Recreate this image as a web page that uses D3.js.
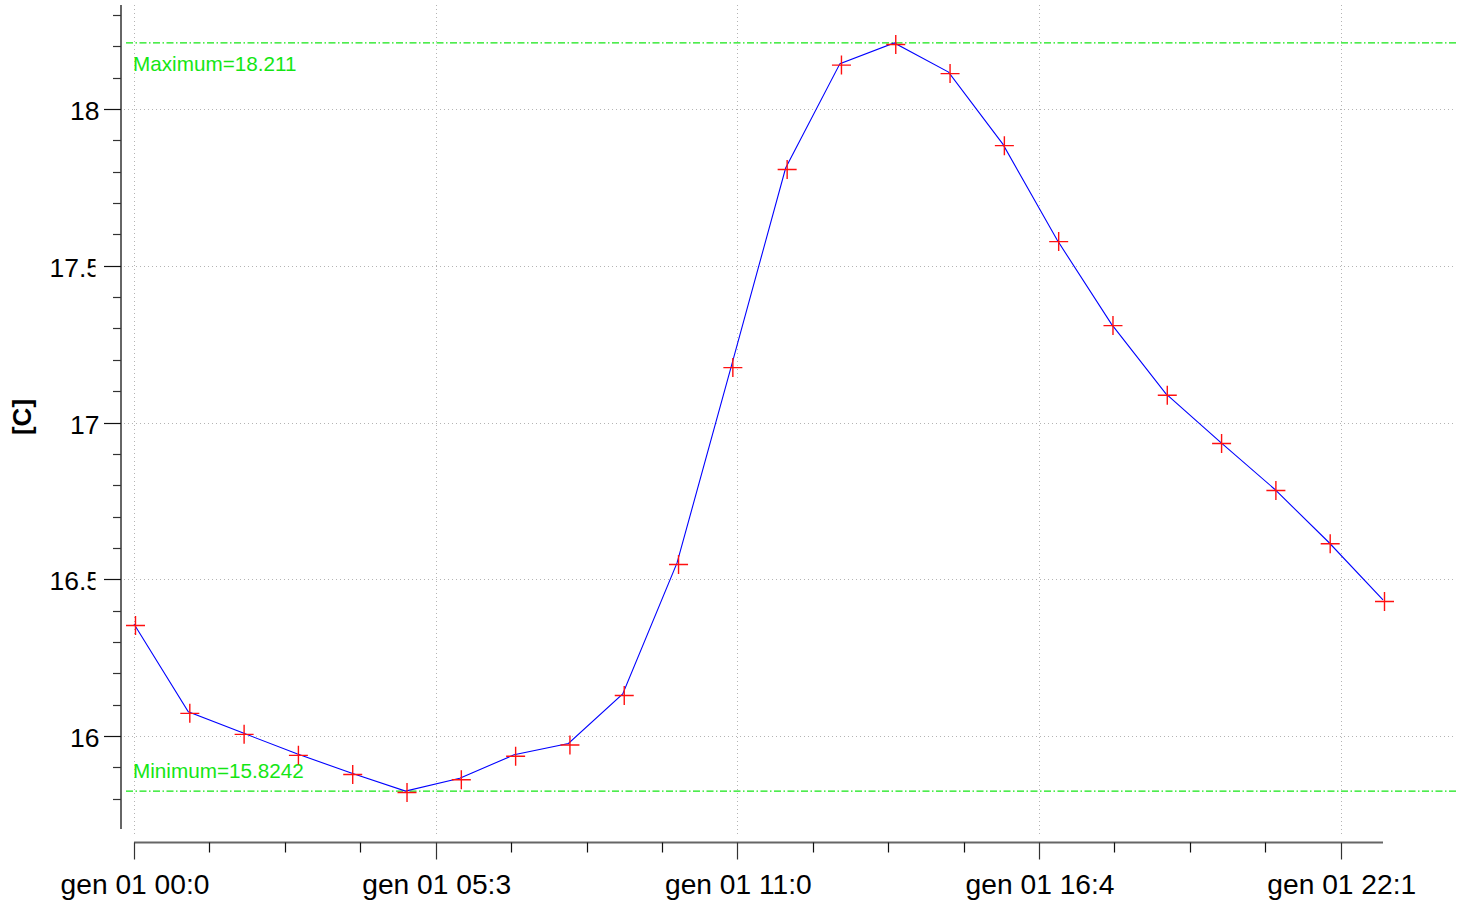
<!DOCTYPE html>
<html>
<head>
<meta charset="utf-8">
<script src="https://cdn.jsdelivr.net/npm/d3@7"></script>
<style>
  html, body { margin: 0; padding: 0; background: #fff; }
  svg { display: block; font-family: "Liberation Sans", Arial, Helvetica, sans-serif; }
</style>
</head>
<body>
<svg id="chart" width="1467" height="905"></svg>
<script>
// Hourly temperature readings, hours since gen 01 00:00
const hours = [0, 1, 2, 3, 4, 5, 6, 7, 8, 9, 10, 11, 12, 13, 14, 15, 16, 17, 18, 19, 20, 21, 22, 23];
const temperature = [16.357, 16.077, 16.010, 15.943, 15.882, 15.8242, 15.865, 15.940, 15.976, 16.134,
                     16.552, 17.180, 17.812, 18.145, 18.211, 18.118, 17.888, 17.582, 17.314, 17.092,
                     16.938, 16.788, 16.618, 16.434];

// Axis ticks
const xMajorTicks = [0, 50 / 9, 100 / 9, 150 / 9, 200 / 9];
const xTickLabels = ["gen 01 00:0", "gen 01 05:3", "gen 01 11:0", "gen 01 16:4", "gen 01 22:1"];
const yMajorTicks = [16, 16.5, 17, 17.5, 18];
const yTickLabels = ["16", "16.5", "17", "17.5", "18"];
const yMinorTicks = [15.8, 15.9, 16.1, 16.2, 16.3, 16.4, 16.6, 16.7, 16.8, 16.9,
                     17.1, 17.2, 17.3, 17.4, 17.6, 17.7, 17.8, 17.9, 18.1, 18.2, 18.3];
const yAxisTitle = "[C]";

// Reference lines for the extremes
const maxValue = d3.max(temperature);
const minValue = d3.min(temperature);
const maxLabel = "Maximum=18.211";
const minLabel = "Minimum=15.8242";

const svg = d3.select("#chart");

const x = d3.scaleLinear().domain([0, 23]).range([134, 1383]);
const y = d3.scaleLinear().domain([15.7, 18.332]).range([830, 5]);

const xMinorTicks = d3.range(0, 23, 25 / 18).filter(t => !xMajorTicks.some(m => Math.abs(m - t) < 1e-6));

const gridRight = 1456;
const gridBottom = 837;

// Dotted grid
const grid = svg.append("g").attr("stroke", "#b4b4b4").attr("stroke-width", 1).attr("stroke-dasharray", "1,3");
grid.selectAll("line.v").data(xMajorTicks).join("line")
  .attr("class", "v")
  .attr("x1", d => Math.round(x(d)) + 0.5).attr("x2", d => Math.round(x(d)) + 0.5)
  .attr("y1", y.range()[1]).attr("y2", gridBottom);
grid.selectAll("line.h").data(yMajorTicks).join("line")
  .attr("class", "h")
  .attr("x1", 124).attr("x2", gridRight)
  .attr("y1", d => Math.round(y(d)) + 0.5).attr("y2", d => Math.round(y(d)) + 0.5);

// Y axis
const yAxisG = svg.append("g").attr("transform", "translate(121,0)");
yAxisG.append("line")
  .attr("x1", 0).attr("x2", 0)
  .attr("y1", y.range()[1]).attr("y2", y.range()[0] - 1)
  .attr("stroke", "#666").attr("stroke-width", 2);
yAxisG.selectAll("line.major").data(yMajorTicks).join("line")
  .attr("class", "major")
  .attr("x1", -17).attr("x2", 0)
  .attr("y1", d => Math.round(y(d)) + 0.5).attr("y2", d => Math.round(y(d)) + 0.5)
  .attr("stroke", "#111").attr("stroke-width", 1.2);
yAxisG.selectAll("line.minor").data(yMinorTicks).join("line")
  .attr("class", "minor")
  .attr("x1", -8).attr("x2", 0)
  .attr("y1", d => Math.round(y(d)) + 0.5).attr("y2", d => Math.round(y(d)) + 0.5)
  .attr("stroke", "#333").attr("stroke-width", 1.2);

// Tick labels sit in a fixed-width box; longer values lose part of their last digit
const defs = svg.append("defs");
defs.append("clipPath").attr("id", "ylabel-clip-short")
  .append("rect").attr("x", 0).attr("y", 0).attr("width", 100).attr("height", 905);
defs.append("clipPath").attr("id", "ylabel-clip-long")
  .append("rect").attr("x", 0).attr("y", 0).attr("width", 95.5).attr("height", 905);

const yLabelData = yMajorTicks.map((v, i) => ({ v, label: yTickLabels[i], long: yTickLabels[i].length > 2 }));
[false, true].forEach(isLong => {
  svg.append("g").attr("clip-path", `url(#ylabel-clip-${isLong ? "long" : "short"})`)
    .selectAll("text").data(yLabelData.filter(d => d.long === isLong)).join("text")
    .attr("x", isLong ? 101 : 99.5)
    .attr("y", d => y(d.v) + 1.5)
    .attr("dy", "0.36em")
    .attr("text-anchor", "end")
    .attr("font-size", 26.5)
    .attr("fill", "#000")
    .text(d => d.label);
});

svg.append("text")
  .attr("transform", "translate(31,417) rotate(-90)")
  .attr("text-anchor", "middle")
  .attr("font-size", 26)
  .attr("font-weight", "bold")
  .text(yAxisTitle);

// X axis
const xAxisY = 842.5;
const xAxisG = svg.append("g");
xAxisG.append("line")
  .attr("x1", x.range()[0]).attr("x2", x.range()[1])
  .attr("y1", xAxisY).attr("y2", xAxisY)
  .attr("stroke", "#666").attr("stroke-width", 2);
xAxisG.selectAll("line.major").data(xMajorTicks).join("line")
  .attr("class", "major")
  .attr("x1", d => Math.round(x(d)) + 0.5).attr("x2", d => Math.round(x(d)) + 0.5)
  .attr("y1", xAxisY).attr("y2", xAxisY + 17)
  .attr("stroke", "#333").attr("stroke-width", 1.2);
xAxisG.selectAll("line.minor").data(xMinorTicks).join("line")
  .attr("class", "minor")
  .attr("x1", d => Math.round(x(d)) + 0.5).attr("x2", d => Math.round(x(d)) + 0.5)
  .attr("y1", xAxisY).attr("y2", xAxisY + 10)
  .attr("stroke", "#111").attr("stroke-width", 1.2);
xAxisG.selectAll("text").data(xMajorTicks).join("text")
  .attr("x", d => x(d) + 1)
  .attr("y", 894)
  .attr("text-anchor", "middle")
  .attr("font-size", 28.2)
  .attr("fill", "#000")
  .text((d, i) => xTickLabels[i]);

// Extreme value lines
const green = "#14e614";
const extremes = [
  { value: maxValue, label: maxLabel, dy: 28 },
  { value: minValue, label: minLabel, dy: -13 }
];
const extG = svg.append("g");
extG.selectAll("line").data(extremes).join("line")
  .attr("x1", 126).attr("x2", gridRight)
  .attr("y1", d => y(d.value)).attr("y2", d => y(d.value))
  .attr("stroke", green).attr("stroke-width", 1.2)
  .attr("stroke-dasharray", "7,2.5,1.5,2.5");
extG.selectAll("text").data(extremes).join("text")
  .attr("x", 133)
  .attr("y", d => y(d.value) + d.dy)
  .attr("font-size", 20.7)
  .attr("fill", green)
  .text(d => d.label);

// Temperature series
const points = hours.map((h, i) => ({ h, v: temperature[i] }));
svg.append("path")
  .datum(points)
  .attr("fill", "none")
  .attr("stroke", "#0000ff")
  .attr("stroke-width", 1.1)
  .attr("d", d3.line().x(d => x(d.h)).y(d => y(d.v)));

const arm = 9.5;
svg.append("g")
  .selectAll("path").data(points).join("path")
  .attr("transform", d => `translate(${x(d.h) + 1.5},${y(d.v) + 1.5})`)
  .attr("d", `M${-arm},0H${arm}M0,${-arm}V${arm}`)
  .attr("fill", "none")
  .attr("stroke", "#ff1010")
  .attr("stroke-width", 1.4);
</script>
</body>
</html>
